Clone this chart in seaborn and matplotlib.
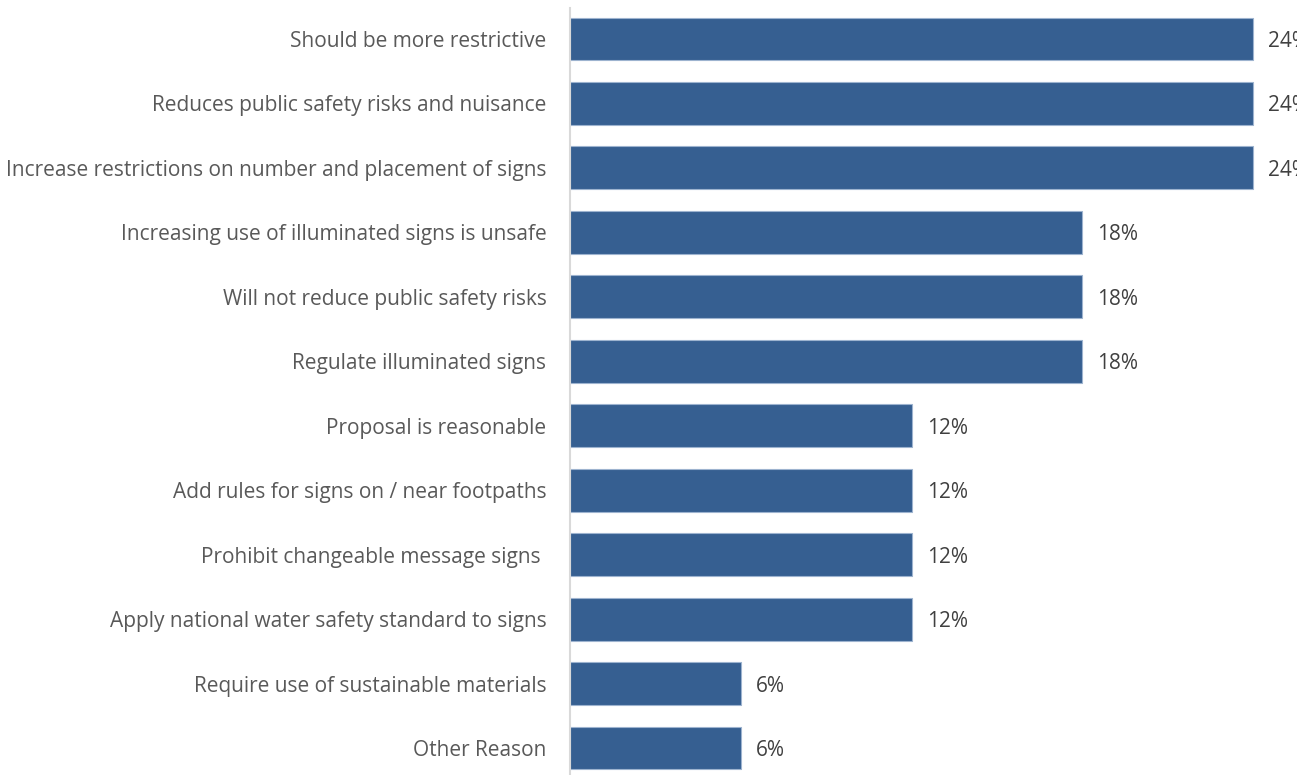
import matplotlib
matplotlib.use("Agg")
import matplotlib.pyplot as plt
import seaborn as sns
import pandas as pd

categories = [
    "Should be more restrictive",
    "Reduces public safety risks and nuisance",
    "Increase restrictions on number and placement of signs",
    "Increasing use of illuminated signs is unsafe",
    "Will not reduce public safety risks",
    "Regulate illuminated signs",
    "Proposal is reasonable",
    "Add rules for signs on / near footpaths",
    "Prohibit changeable message signs ",
    "Apply national water safety standard to signs",
    "Require use of sustainable materials",
    "Other Reason",
]
values = [24, 24, 24, 18, 18, 18, 12, 12, 12, 12, 6, 6]

df = pd.DataFrame({"reason": categories, "pct": values})

sns.set_theme(style="white")
plt.rcParams["font.family"] = ["Open Sans", "DejaVu Sans"]

W, H = 1314, 775
fig = plt.figure(figsize=(W / 100, H / 100), dpi=100)
left_px, right_px, top_px = 570, 1297, 8
ax = fig.add_axes([left_px / W, 0, (right_px - left_px) / W, (H - top_px) / H])

bar_color = "#365F91"
sns.barplot(data=df, x="pct", y="reason", orient="h", color=bar_color,
            saturation=1, width=0.667, edgecolor="#9DB3CF", linewidth=0.8, ax=ax)

pitch = (748 - 39) / 11
ax.set_ylim(11 + (H - 748) / pitch, -(39 - top_px) / pitch)
ax.set_xlim(0, (right_px - left_px) / 683 * 24)

text_color = "#595959"
value_color = "#404040"
for container in ax.containers:
    labels = ax.bar_label(container, labels=[f"{v}%" for v in values], padding=11,
                          fontsize=15, color=value_color, clip_on=True)
    for t in labels:
        t.set_va("center_baseline")

ax.set_xlabel("")
ax.set_ylabel("")
ax.set_xticks([])
ax.tick_params(axis="y", length=0, pad=17, labelsize=15, labelcolor=text_color)
for side in ["top", "right", "bottom"]:
    ax.spines[side].set_visible(False)
ax.spines["left"].set_color("#D9D9D9")
ax.spines["left"].set_linewidth(1.5)

fig.savefig("out.png", dpi=100)
